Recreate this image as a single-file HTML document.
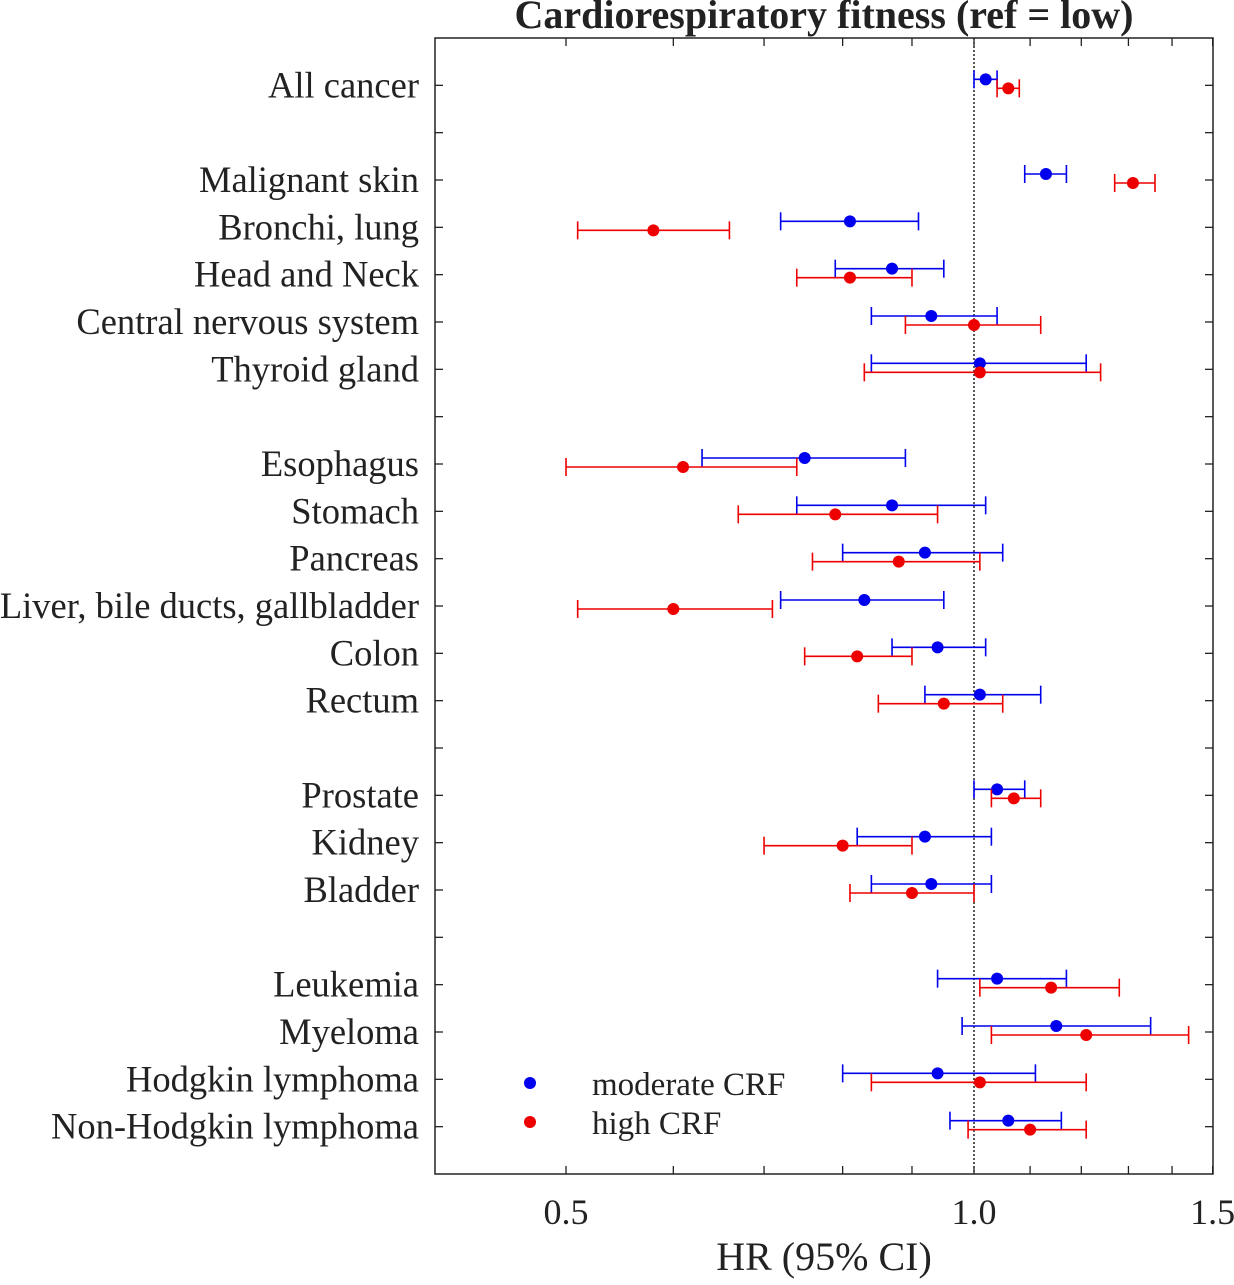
<!DOCTYPE html>
<html><head><meta charset="utf-8"><style>
body{margin:0;background:#fff}
svg text{font-family:"Liberation Serif",serif;fill:#222}
</style></head><body>
<svg id="chart" width="1234" height="1280" xmlns="http://www.w3.org/2000/svg"></svg>
<script>
const labels=["All cancer","","Malignant skin","Bronchi, lung","Head and Neck","Central nervous system","Thyroid gland","","Esophagus","Stomach","Pancreas","Liver, bile ducts, gallbladder","Colon","Rectum","","Prostate","Kidney","Bladder","","Leukemia","Myeloma","Hodgkin lymphoma","Non-Hodgkin lymphoma"];
const modHR=[1.02,null,1.13,0.81,0.87,0.93,1.01,null,0.75,0.87,0.92,0.83,0.94,1.01,null,1.04,0.92,0.93,null,1.04,1.15,0.94,1.06];
const modLo=[1.0,null,1.09,0.72,0.79,0.84,0.84,null,0.63,0.74,0.80,0.72,0.87,0.92,null,1.0,0.82,0.84,null,0.94,0.98,0.80,0.96];
const modHi=[1.04,null,1.17,0.91,0.95,1.04,1.21,null,0.89,1.02,1.05,0.95,1.02,1.12,null,1.09,1.03,1.03,null,1.17,1.35,1.11,1.16];
const highHR=[1.06,null,1.31,0.58,0.81,1.0,1.01,null,0.61,0.79,0.88,0.60,0.82,0.95,null,1.07,0.80,0.90,null,1.14,1.21,1.01,1.10];
const highLo=[1.04,null,1.27,0.51,0.74,0.89,0.83,null,0.50,0.67,0.76,0.51,0.75,0.85,null,1.03,0.70,0.81,null,1.01,1.03,0.84,0.99];
const highHi=[1.08,null,1.36,0.66,0.90,1.12,1.24,null,0.74,0.94,1.01,0.71,0.90,1.05,null,1.12,0.90,1.0,null,1.28,1.44,1.21,1.21];
const xTicks=[0.5,0.6,0.7,0.8,0.9,1.0,1.1,1.2,1.3,1.4,1.5];
const xTickLabels={"0.5":"0.5","1":"1.0","1.5":"1.5"};

const svg=document.getElementById('chart');
const NS="http://www.w3.org/2000/svg";
const L=435,R=1213,T=38,B=1174;
const x=v=>974+588.6*Math.log(v);
const rowH=(B-T)/(labels.length+1);
const y=i=>T+rowH*(i+1);
function mk(tag,attrs,parent){const e=document.createElementNS(NS,tag);for(const k in attrs)e.setAttribute(k,attrs[k]);(parent||svg).appendChild(e);return e;}
let e;
e=mk('rect',{x:L,y:T,width:R-L,height:B-T,fill:'none',stroke:'#222','stroke-width':1.5});


e=mk('line',{x1:x(1),x2:x(1),y1:T,y2:B,stroke:'#000','stroke-width':1.3,'stroke-dasharray':'2,2'});


xTicks.forEach(t=>{
  const px=x(t);
  e=mk('line',{x1:px,x2:px,y1:B,y2:B-8,stroke:'#222','stroke-width':1.3});
  
  
  e=mk('line',{x1:px,x2:px,y1:T,y2:T+8,stroke:'#222','stroke-width':1.3});
  
  
  const lab=xTickLabels[String(t)];
  if(lab){e=mk('text',{x:px,y:1224,'font-size':36,'text-anchor':'middle'});e.textContent=lab;
  
  }
});
labels.forEach((lab,i)=>{
  const py=y(i);
  e=mk('line',{x1:L,x2:L+8,y1:py,y2:py,stroke:'#222','stroke-width':1.3});
  
  
  e=mk('line',{x1:R,x2:R-8,y1:py,y2:py,stroke:'#222','stroke-width':1.3});
  
  
  if(lab){e=mk('text',{x:419,y:py+12,'font-size':36.5,'text-anchor':'end'});e.textContent=lab;
  
  }
});
function series(hr,lo,hi,col,off,name){
  hr.forEach((v,i)=>{
    if(v==null)return;
    const py=y(i)+off;
    const g=mk('g',{});
    
    
    mk('line',{x1:x(lo[i]),x2:x(hi[i]),y1:py,y2:py,stroke:col,'stroke-width':1.6},g);
    mk('line',{x1:x(lo[i]),x2:x(lo[i]),y1:py-9,y2:py+9,stroke:col,'stroke-width':1.6},g);
    mk('line',{x1:x(hi[i]),x2:x(hi[i]),y1:py-9,y2:py+9,stroke:col,'stroke-width':1.6},g);
    mk('circle',{cx:x(v),cy:py,r:6,fill:col},g);
  });
}
series(modHR,modLo,modHi,'#0000ee',-6,'moderate-crf');
series(highHR,highLo,highHi,'#ee0000',3,'high-crf');
</script>
<div style="position:absolute;left:0;top:0;width:1234px;height:1280px;pointer-events:none">
<svg width="1234" height="1280" xmlns="http://www.w3.org/2000/svg" style="position:absolute;left:0;top:0">
<text x="824" y="28" font-size="40" font-weight="bold" text-anchor="middle" style="font-family:'Liberation Serif',serif" fill="#111">Cardiorespiratory fitness (ref = low)</text>
<text x="824" y="1270" font-size="40" text-anchor="middle" style="font-family:'Liberation Serif',serif" fill="#222">HR (95% CI)</text>
<g>
<circle cx="530" cy="1083" r="6" fill="#0000ee"/>
<text x="592" y="1095" font-size="33" style="font-family:'Liberation Serif',serif" fill="#222">moderate CRF</text>
<circle cx="530" cy="1122" r="6" fill="#ee0000"/>
<text x="592" y="1134" font-size="33" style="font-family:'Liberation Serif',serif" fill="#222">high CRF</text>
</g>
</svg></div>
</body></html>
